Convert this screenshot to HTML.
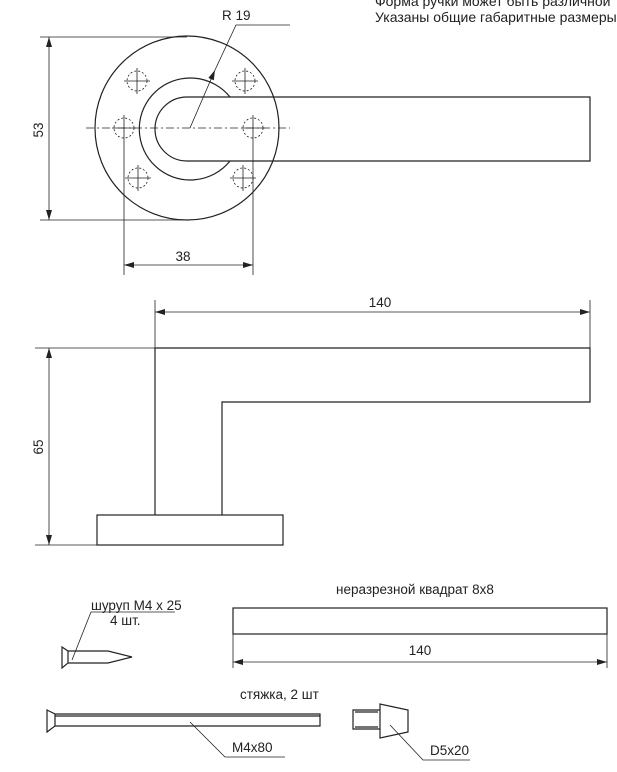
<!DOCTYPE html>
<html><head><meta charset="utf-8"><style>
html,body{margin:0;padding:0;background:#fff;}
svg{display:block;font-family:"Liberation Sans",sans-serif;}
</style></head><body>
<svg width="617" height="772" viewBox="0 0 617 772" xmlns="http://www.w3.org/2000/svg">
<defs>
<marker id="a" markerWidth="10" markerHeight="6" refX="10" refY="3" orient="auto-start-reverse" markerUnits="userSpaceOnUse"><path d="M0,0 L10,3 L0,6 z" fill="#222"/></marker>
</defs>
<g fill="none" stroke="#222" stroke-width="1.2">
<circle cx="187" cy="128" r="92"/>
<path d="M230,97 A51,51 0 1 0 230,161"/>
<path d="M590,97 H187 A32,32 0 0 0 187,161 H590 Z"/>
<g stroke-width="0.8" stroke-dasharray="2,2">
<circle cx="124" cy="128" r="10"/><circle cx="253" cy="128" r="10"/>
<circle cx="137" cy="81" r="10"/><circle cx="245" cy="81" r="10"/>
<circle cx="138" cy="178" r="10"/><circle cx="243" cy="178" r="10"/>
</g>
<g stroke-width="0.8">
<path d="M124,115V275M112,128H136M253,115V275M241,128H265"/>
<path d="M137,68V94M124,81H150M245,68V94M232,81H258M138,165V191M125,178H151M243,165V191M230,178H256"/>
<path d="M86,128H290" stroke-dasharray="8,3,2,3"/>
<path d="M40,37H187M40,220H187"/>
<path d="M49,37V220" marker-start="url(#a)" marker-end="url(#a)"/>
<path d="M124,265H253" marker-start="url(#a)" marker-end="url(#a)"/>
<path d="M190,128L215,70" marker-end="url(#a)"/>
<path d="M215,70L236,25H290"/>
</g>
<path d="M155,515V348H590V402H222V515"/>
<rect x="97" y="515" width="186" height="30"/>
<g stroke-width="0.8">
<path d="M155,300V348M590,300V348M35,348H185M35,545H185"/>
<path d="M155,312H590" marker-start="url(#a)" marker-end="url(#a)"/>
<path d="M49,348V545" marker-start="url(#a)" marker-end="url(#a)"/>
</g>
<rect x="233" y="608" width="374" height="26"/>
<g stroke-width="0.8">
<path d="M233,634V668M607,634V668"/>
<path d="M233,662H607" marker-start="url(#a)" marker-end="url(#a)"/>
</g>
<path d="M62,647L68,651V663L62,668Z M68,651H108L132,657L108,663H68"/>
<path d="M72,660L91,612H175" stroke-width="0.8"/>
<path d="M47,710L55,714V726L47,732Z M55,714H320V726H55 M55,716H320"/>
<path d="M190,722L225,757H285" stroke-width="0.8"/>
<path d="M353,710H380V729H353Z M380,704L408,710V732L380,738Z M355,712H378M355,727H378"/>
<path d="M390,725L423,760H470" stroke-width="0.8"/>
</g>
<g fill="#222" font-size="13.5">
<text x="375" y="6" font-size="14">Форма ручки может быть различной</text>
<text x="375" y="22" font-size="14">Указаны общие габаритные размеры</text>
<text x="222" y="20">R 19</text>
<text x="183" y="261" text-anchor="middle">38</text>
<text transform="translate(43,130) rotate(-90)" text-anchor="middle">53</text>
<text x="380" y="307" text-anchor="middle">140</text>
<text transform="translate(43,447) rotate(-90)" text-anchor="middle">65</text>
<text x="415" y="594" text-anchor="middle">неразрезной квадрат 8х8</text>
<text x="420" y="655" text-anchor="middle">140</text>
<text x="91" y="610">шуруп М4 х 25</text>
<text x="110" y="625">4 шт.</text>
<text x="240" y="699">стяжка, 2 шт</text>
<text x="232" y="752">M4x80</text>
<text x="430" y="755">D5x20</text>
</g>
</svg>
</body></html>
